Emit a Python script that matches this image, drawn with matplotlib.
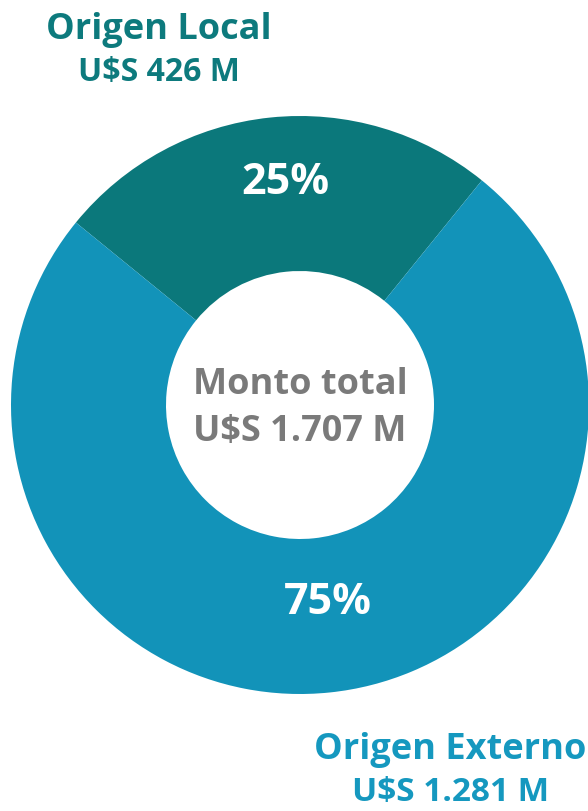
import matplotlib.pyplot as plt

# data
categories = ['Origen Local', 'Origen Externo']
amounts = [426, 1281]          # millones U$S
amount_labels = ['U$S 426 M', 'U$S 1.281 M']
total_label = 'U$S 1.707 M'
colors = ['#0b787b', '#1293b9']
label_colors = ['#0d7a7d', '#1598bf']

plt.rcParams['font.family'] = ['Open Sans', 'DejaVu Sans']

fig = plt.figure(figsize=(5.88, 8.12), dpi=100)
ax = fig.add_axes([0, 0, 1, 1])

# donut
wedges, _ = ax.pie(amounts, colors=colors, startangle=51, counterclock=True,
                   center=(300, 406), radius=289, frame=True,
                   wedgeprops=dict(width=155, edgecolor='none'))
ax.set_xlim(0, 588)
ax.set_ylim(0, 812)
ax.set_aspect('equal')
ax.axis('off')

total = sum(amounts)
pcts = [round(100 * a / total) for a in amounts]

# percentages inside the ring
ax.text(285, 812 - 182, f'{pcts[0]}%', color='white', fontsize=31,
        fontweight='bold', ha='center', va='center')
ax.text(328, 812 - 603, f'{pcts[1]}%', color='white', fontsize=31,
        fontweight='bold', ha='center', va='center')

# center text
ax.text(300, 812 - 385, 'Monto total', color='#7a7a7a', fontsize=26,
        fontweight='bold', ha='center', va='center')
ax.text(300, 812 - 432, total_label, color='#7a7a7a', fontsize=26,
        fontweight='bold', ha='center', va='center')

# outer labels
ax.text(159, 812 - 30, categories[0], color=label_colors[0], fontsize=26,
        fontweight='bold', ha='center', va='center')
ax.text(159, 812 - 72, amount_labels[0], color=label_colors[0], fontsize=23,
        fontweight='bold', ha='center', va='center')
ax.text(450, 812 - 750, categories[1], color=label_colors[1], fontsize=26,
        fontweight='bold', ha='center', va='center')
ax.text(451, 812 - 793, amount_labels[1], color=label_colors[1], fontsize=24,
        fontweight='bold', ha='center', va='center')

fig.savefig('out.png', dpi=100)
